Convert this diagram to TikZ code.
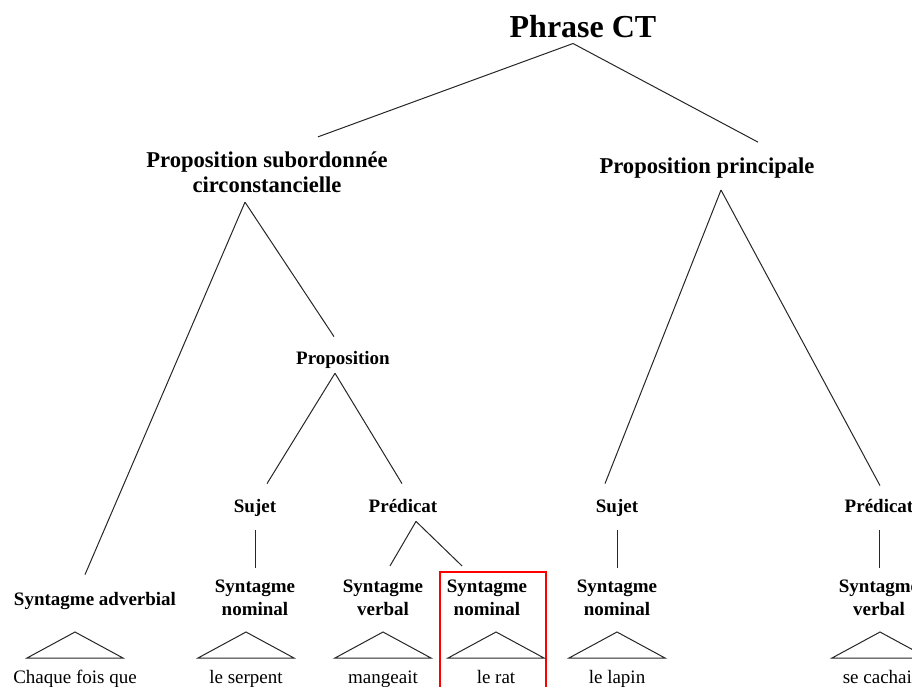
\documentclass[tikz,border=0pt]{standalone}
\usepackage{fontspec}
\setmainfont{Liberation Serif}

\begin{document}
\begin{tikzpicture}[
  x=1pt, y=-1pt,
  every node/.style={inner sep=2pt},
  top/.style    = {font=\fontsize{32}{36}\selectfont\bfseries, anchor=base},
  clause/.style = {font=\fontsize{22.6}{25}\selectfont\bfseries, align=center},
  func/.style   = {font=\fontsize{19}{23}\selectfont\bfseries, align=center},
  word/.style   = {font=\fontsize{19}{23}\selectfont, anchor=base},
  edge/.style   = {line width=1pt, black!85},
  hilite/.style = {draw=red, line width=2pt, anchor=north west, minimum width=106pt, minimum height=140pt},
]
  \clip (0,0) rectangle (912,686);
  % Sentence and its two clauses
  \node[top]                 (root) at (583,37)    {Phrase CT};
  \node[clause]              (sub)  at (267,172.5) {Proposition subordonnée\\circonstancielle};
  \node[clause, anchor=base] (prin) at (707,173)   {Proposition principale};
  \node[func, anchor=base]   (prop) at (343,364)   {Proposition};

  % Functions
  \node[func, anchor=base] (suj1)  at (255,512) {Sujet};
  \node[func, anchor=base] (pred1) at (403,512) {Prédicat};
  \node[func, anchor=base] (suj2)  at (617,512) {Sujet};
  \node[func, anchor=base] (pred2) at (879,512) {Prédicat};

  % Phrases
  \node[func, anchor=base] (adv) at (95,605)  {Syntagme adverbial};
  \node[func]              (sn1) at (255,598) {Syntagme\\nominal};
  \node[func]              (sv1) at (383,598) {Syntagme\\verbal};
  \node[func]              (sn2) at (487,598) {Syntagme\\nominal};
  \node[func]              (sn3) at (617,598) {Syntagme\\nominal};
  \node[func]              (sv2) at (879,598) {Syntagme\\verbal};

  % Words
  \node[word] (w1) at (75,683)  {Chaque fois que};
  \node[word] (w2) at (246,683) {le serpent};
  \node[word] (w3) at (383,683) {mangeait};
  \node[word] (w4) at (496,683) {le rat};
  \node[word] (w5) at (617,683) {le lapin};
  \node[word] (w6) at (880,683) {se cachait};

  \node[hilite] (hl) at (439,571) {};

  % Branches: parent.south (shifted) -> child.north (shifted)
  \foreach \a/\ax/\ay/\b/\bx/\by in {
      root/-10/4/sub/51/-13, root/-10/4/prin/51/-13,
      sub/-22/7/adv/-10/-15, sub/-22/7/prop/-9/-12,
      prop/-8/3/suj1/12/-13, prop/-8/3/pred1/-1/-13,
      suj1/0/12/sn1/0/-10,
      pred1/13/7/sv1/7/-12, pred1/13/7/sn2/-25/-12,
      prin/14/10/suj2/-12/-13, prin/14/10/pred2/1/-11,
      suj2/0/12/sn3/0/-10, pred2/0/16/sv2/0/-10}
    \draw[edge] ([shift={(\ax,\ay)}]\a.south) -- ([shift={(\bx,\by)}]\b.north);

  % Triangles over the words
  \foreach \w in {w1,w2,w3,w4,w5,w6}
    \draw[edge] (\w.base) ++(0,-51) -- ++(48,26) -- ++(-96,0) -- cycle;
\end{tikzpicture}
\end{document}
